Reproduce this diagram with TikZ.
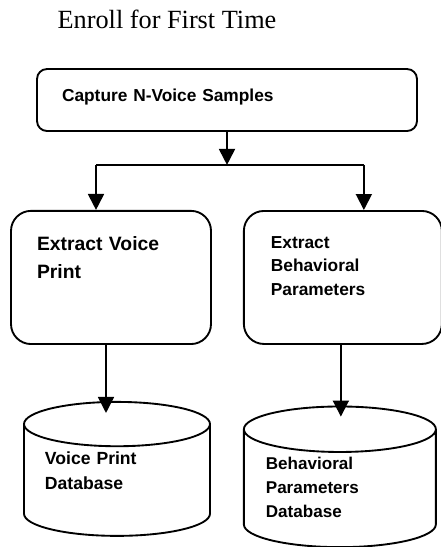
\documentclass[tikz,border=0pt]{standalone}
\usepackage{fontspec}
\setmainfont{Liberation Serif}
\setsansfont{Liberation Sans}
\usepackage{tikz}
\usetikzlibrary{arrows.meta}
\usetikzlibrary{positioning, shapes.geometric}

\tikzset{
  procbox/.style={draw, line width=1.4pt, rounded corners=15pt, align=left,
    inner xsep=19.5pt, inner ysep=19pt},
  dbase/.style={draw, line width=1.4pt, cylinder, shape border rotate=90,
    aspect=0.29, align=left},
  flow/.style={line width=1.4pt, -{Triangle[length=12pt,width=12pt]}},
  wire/.style={line width=1.4pt},
}

\begin{document}
\begin{tikzpicture}
        \useasboundingbox (0,0) rectangle (330pt,-410.25pt);
        \node[inner sep=0pt, font=\fontsize{19.7}{23}\selectfont] (title) at (125.25pt,-14.3pt) {Enroll for First Time};
        \node[procbox, rounded corners=7.5pt, minimum width=285pt, minimum height=46.5pt,
              text width=247.5pt, inner xsep=18.75pt, inner ysep=0pt, text depth=7.5pt,
              font=\sffamily\bfseries\fontsize{13}{16}\selectfont] (capture) at (170.25pt,-75pt)
              {Capture N-Voice Samples};
        \node[procbox, below=58.5pt of capture.south west, anchor=north west, xshift=-19.5pt,
              minimum height=99.75pt, text width=111pt, text depth=51.37pt,
              font=\sffamily\bfseries\fontsize{14.5}{21}\selectfont] (voice)
              {Extract Voice\\Print};
        \node[procbox, right=23.25pt of voice, minimum height=99.75pt, text width=108pt,
              inner xsep=20.25pt, text depth=52.44pt,
              font=\sffamily\bfseries\fontsize{13}{17.6}\selectfont] (behav)
              {Extract\\Behavioral\\Parameters};
        \node[dbase, below=42pt of voice, xshift=4.5pt, minimum width=139.5pt,
              minimum height=96.75pt, text width=108pt, text depth=38.75pt,
              font=\sffamily\bfseries\fontsize{13.2}{18.75}\selectfont] (vpdb)
              {Voice Print\\Database};
        \node[dbase, below=45.5pt of behav, xshift=-2.25pt, minimum width=144pt,
              minimum height=104.25pt, text width=111pt, text depth=42.8pt,
              font=\sffamily\bfseries\fontsize{12.8}{18}\selectfont] (bpdb)
              {Behavioral\\Parameters\\Database};

        \coordinate (split) at ([yshift=-24.75pt]capture.south);
        \path (voice.north) ++(-11.25pt,0) coordinate (inl);
        \path (behav.north) ++(15.75pt,0) coordinate (inr);
        \coordinate (splitl) at (inl |- split);
        \coordinate (splitr) at (inr |- split);
        \path (voice.south) ++(-3.75pt,0) coordinate (outl);
        \path (behav.south) ++(-1.5pt,0) coordinate (outr);
        \path (vpdb.north) ++(0,-9pt) coordinate (dbl);
        \path (bpdb.north) ++(0,-8.25pt) coordinate (dbr);

        \draw[flow] (capture.south) -- (split);
        \draw[wire] (splitl) -- (splitr);
        \draw[flow] (splitl) -- (inl);
        \draw[flow] (splitr) -- (inr);
        \draw[flow] (outl) -- (outl |- dbl);
        \draw[flow] (outr) -- (outr |- dbr);
\end{tikzpicture}
\end{document}
